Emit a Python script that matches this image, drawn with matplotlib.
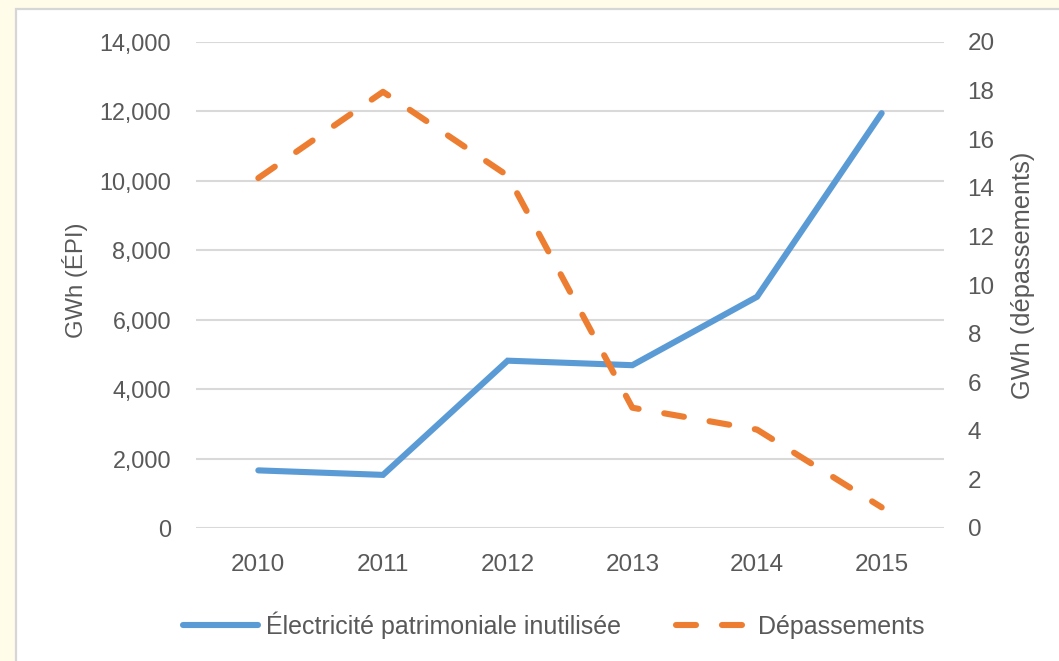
import matplotlib
matplotlib.use("Agg")
import matplotlib.pyplot as plt
from matplotlib.patches import Rectangle

# Data
years = ["2010", "2011", "2012", "2013", "2014", "2015"]
epi_unused = [1660, 1530, 4820, 4690, 6660, 11950]      # GWh (ÉPI)
overruns = [14.4, 17.95, 14.5, 4.95, 4.05, 0.85]        # GWh (dépassements)

left_ticks = [0, 2000, 4000, 6000, 8000, 10000, 12000, 14000]
right_ticks = [0, 2, 4, 6, 8, 10, 12, 14, 16, 18, 20]

BLUE = "#5B9BD5"
ORANGE = "#ED7D31"
GRID = "#D9D9D9"
TEXT = "#595959"
CREAM = "#FFFCE9"
FS = 17.5

plt.rcParams["font.family"] = ["Liberation Sans", "DejaVu Sans"]
plt.rcParams["lines.scale_dashes"] = False

W, H = 1059, 661
fig = plt.figure(figsize=(W / 100, H / 100), dpi=100, facecolor=CREAM)

# White panel with a thin grey border on its left and top edges
panel = Rectangle((16 / W, -0.1), 1.2, 1.1 - 9 / H, transform=fig.transFigure,
                  facecolor="white", edgecolor="#D6D6D6", linewidth=1.6, zorder=-5)
fig.patches.append(panel)

ax = fig.add_axes([196 / W, 1 - 528 / H, (944 - 196) / W, (528 - 42) / H])
ax.set_facecolor("none")
x = list(range(len(years)))

ax.set_xlim(-0.5, len(years) - 0.5)
ax.set_ylim(0, 14000)
ax.set_yticks(left_ticks)
ax.set_yticklabels([f"{v:,}" for v in left_ticks])
ax.set_xticks(x)
ax.set_xticklabels(years)
ax.grid(axis="y", color=GRID, linewidth=1.5)
ax.set_axisbelow(True)
for s in ax.spines.values():
    s.set_visible(False)
ax.tick_params(axis="x", length=0, labelsize=FS, labelcolor=TEXT, pad=19)
ax.tick_params(axis="y", length=0, labelsize=16.8, labelcolor=TEXT, pad=18)
ax.set_ylabel("GWh (ÉPI)", fontsize=17.2, color=TEXT, labelpad=8)
ax.yaxis.label.set_y(0.51)

ax2 = ax.twinx()
ax2.set_ylim(0, 20)
ax2.set_yticks(right_ticks)
for s in ax2.spines.values():
    s.set_visible(False)
ax2.tick_params(axis="y", length=0, labelsize=FS, labelcolor=TEXT, pad=17)
ax2.set_ylabel("GWh (dépassements)", fontsize=18.3, color=TEXT, labelpad=12)
ax2.yaxis.label.set_y(0.52)

l1, = ax.plot(x, epi_unused, color=BLUE, linewidth=4.4,
              solid_capstyle="round", solid_joinstyle="miter",
              label="Électricité patrimoniale inutilisée")
l2, = ax2.plot(x, overruns, color=ORANGE, linewidth=4.4,
               linestyle=(0, (14.4, 18.7)), dash_capstyle="round",
               label="Dépassements")

fig.legend(handles=[l1, l2], loc="center", bbox_to_anchor=(0.523, 1 - 625 / H),
           ncol=2, frameon=False, fontsize=FS + 0.5, labelcolor=TEXT,
           handlelength=3.0, handletextpad=0.3, columnspacing=2.2)

fig.savefig("out.png", dpi=100, facecolor=CREAM)
